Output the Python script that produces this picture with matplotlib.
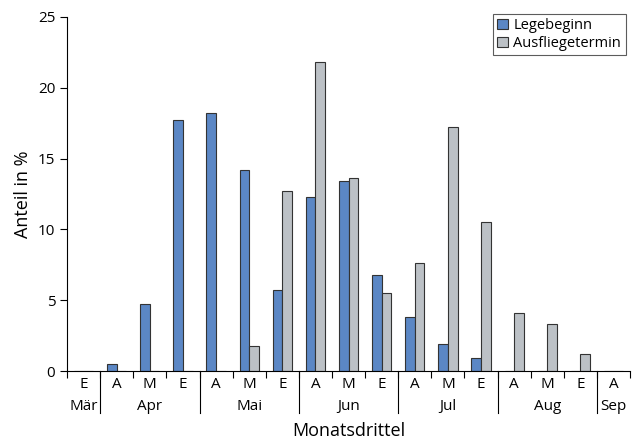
import numpy as np
import matplotlib.pyplot as plt
from matplotlib.transforms import blended_transform_factory

plt.rcParams['font.family'] = ['Open Sans', 'DejaVu Sans']

# Monatsdrittel: A = Anfang, M = Mitte, E = Ende
drittel = ["E", "A", "M", "E", "A", "M", "E", "A", "M", "E", "A", "M", "E", "A", "M", "E", "A"]
monate = ["Mär", "Apr", "Mai", "Jun", "Jul", "Aug", "Sep"]
monat_start = [0, 1, 4, 7, 10, 13, 16]
monat_ende = [0, 3, 6, 9, 12, 15, 16]

legebeginn = [0, 0.5, 4.7, 17.7, 18.2, 14.2, 5.7, 12.3, 13.4, 6.8, 3.8, 1.9, 0.9, 0, 0, 0, 0]
ausfliegen = [0, 0, 0, 0, 0, 1.8, 12.7, 21.8, 13.6, 5.5, 7.6, 17.2, 10.5, 4.1, 3.3, 1.2, 0]

x = np.arange(len(drittel))
w = 0.29

fig = plt.figure(figsize=(6.39, 4.41), dpi=100)
ax = fig.add_axes([0.1049, 0.1587, 0.8811, 0.8028])

ax.bar(x - w/2, legebeginn, w, color="#5b87c5", edgecolor="#333333", linewidth=0.8, label="Legebeginn")
ax.bar(x + w/2, ausfliegen, w, color="#bcc1c6", edgecolor="#333333", linewidth=0.8, label="Ausfliegetermin")

ax.set_xlim(-0.5, 16.5)
ax.set_ylim(0, 25)
ax.set_yticks([0, 5, 10, 15, 20, 25])
ax.tick_params(axis="y", labelsize=11, length=5, width=0.8)

ax.set_xticks(x)
ax.set_xticklabels(drittel, fontsize=11)
ax.tick_params(axis="x", which="major", length=0, pad=4)
ax.set_xticks(np.arange(-0.5, 17, 1), minor=True)
ax.tick_params(axis="x", which="minor", length=5, width=0.8)

for s in ["top", "right"]:
    ax.spines[s].set_visible(False)
ax.spines["left"].set_linewidth(0.8)
ax.spines["bottom"].set_linewidth(0.8)

trans = blended_transform_factory(ax.transData, ax.transAxes)
for name, a, b in zip(monate, monat_start, monat_ende):
    ax.text((a + b) / 2, -0.1, name, transform=trans, ha="center", va="center", fontsize=11)
for a in monat_start[1:]:
    ax.plot([a - 0.5, a - 0.5], [0, -0.12], transform=trans, color="black", linewidth=0.8, clip_on=False)

ax.set_xlabel("Monatsdrittel", fontsize=13, labelpad=22)
ax.set_ylabel("Anteil in %", fontsize=13, labelpad=4)

leg = ax.legend(loc="upper right", bbox_to_anchor=(1.005, 1.03), fontsize=10.5, fancybox=False,
                edgecolor="#333333", handlelength=0.7, handleheight=0.7, handletextpad=0.4,
                borderpad=0.3, labelspacing=0.2)
leg.get_frame().set_linewidth(0.8)

plt.savefig("out.png", dpi=100)
